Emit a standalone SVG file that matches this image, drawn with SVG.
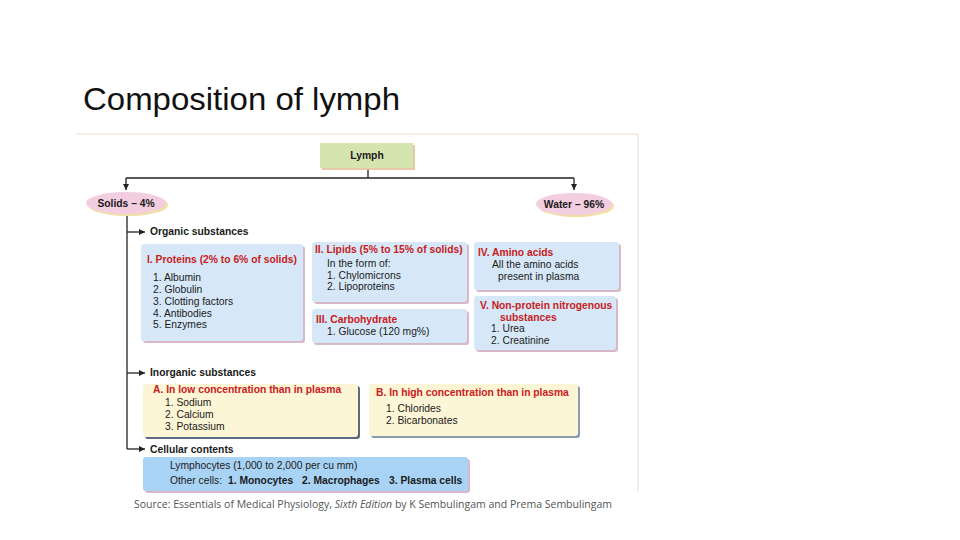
<svg xmlns="http://www.w3.org/2000/svg" width="960" height="540" viewBox="0 0 960 540">
<style>
text{font-family:"Liberation Sans",Arial,sans-serif}
.h{font-size:10.3px;font-weight:bold;fill:#c8201c}
.t{font-size:10.3px;fill:#1a1a1a}
.b{font-size:10.3px;font-weight:bold;fill:#1a1a1a}
.ln{stroke:#222;stroke-width:1.3;fill:none}
.sh{fill:#d8b8c8}
</style>
<defs><marker id="a" markerWidth="8" markerHeight="8" refX="6" refY="3" orient="auto" markerUnits="userSpaceOnUse"><path d="M0,0 L6,3 L0,6 z" fill="#222"/></marker></defs>
<rect width="960" height="540" fill="#fff"/>
<text x="83" y="110" font-size="31" textLength="317" lengthAdjust="spacingAndGlyphs" fill="#111">Composition of lymph</text>
<path d="M76,134 H638 V492" stroke="#ecd8d0" fill="none"/>
<g id="connectors">
<path class="ln" d="M368,168 V178 M126,178 H574"/>
<path class="ln" d="M126,178 V190" marker-end="url(#a)"/>
<path class="ln" d="M574,178 V190" marker-end="url(#a)"/>
<path class="ln" d="M127,214 V449"/>
<path class="ln" d="M127,232 H145" marker-end="url(#a)"/>
<path class="ln" d="M127,373 H145" marker-end="url(#a)"/>
<path class="ln" d="M127,449 H145" marker-end="url(#a)"/>
</g>
<g id="lymph"><rect x="322" y="145" width="93" height="25" fill="#e8c8a8"/><rect x="320" y="143" width="93" height="25" fill="#d5e5b0"/><text x="367" y="159" text-anchor="middle" class="b">Lymph</text></g>
<g id="solids"><ellipse cx="128" cy="205" rx="40" ry="11" fill="#f0e0a8"/><ellipse cx="126" cy="203" rx="40" ry="11" fill="#f3cde0"/><text x="126" y="207" text-anchor="middle" class="b">Solids – 4%</text></g>
<g id="water"><ellipse cx="576" cy="206" rx="38" ry="11" fill="#f0e0a8"/><ellipse cx="574" cy="204" rx="38" ry="11" fill="#f3cde0"/><text x="574" y="208" text-anchor="middle" class="b">Water – 96%</text></g>
<g id="organic"><text x="150" y="235" class="b">Organic substances</text></g>
<g id="proteins"><rect x="143" y="246" width="162" height="97" rx="3" class="sh"/><rect x="141" y="244" width="162" height="97" rx="3" fill="#d6e8f8"/>
<text x="147" y="263" class="h">I. Proteins (2% to 6% of solids)</text>
<text class="t"><tspan x="153" y="281">1. Albumin</tspan><tspan x="153" y="293">2. Globulin</tspan><tspan x="153" y="305">3. Clotting factors</tspan><tspan x="153" y="317">4. Antibodies</tspan><tspan x="153" y="328">5. Enzymes</tspan></text></g>
<g id="lipids"><rect x="314" y="244" width="155" height="60" rx="3" class="sh"/><rect x="312" y="242" width="155" height="60" rx="3" fill="#d6e8f8"/>
<text x="315" y="253" class="h">II. Lipids (5% to 15% of solids)</text>
<text class="t"><tspan x="327" y="267">In the form of:</tspan><tspan x="327" y="279">1. Chylomicrons</tspan><tspan x="327" y="290">2. Lipoproteins</tspan></text></g>
<g id="carbo"><rect x="314" y="311" width="155" height="34" rx="3" class="sh"/><rect x="312" y="309" width="155" height="34" rx="3" fill="#d6e8f8"/>
<text x="316" y="323" class="h">III. Carbohydrate</text><text x="327" y="335" class="t">1. Glucose (120 mg%)</text></g>
<g id="amino"><rect x="476" y="244" width="145" height="48" rx="3" class="sh"/><rect x="474" y="242" width="145" height="48" rx="3" fill="#d6e8f8"/>
<text x="478" y="256" class="h">IV. Amino acids</text><text class="t"><tspan x="492" y="268">All the amino acids</tspan><tspan x="498" y="280">present in plasma</tspan></text></g>
<g id="nonprotein"><rect x="476" y="298" width="142" height="54" rx="3" class="sh"/><rect x="474" y="296" width="142" height="54" rx="3" fill="#d6e8f8"/>
<text x="480" y="309" class="h">V. Non-protein nitrogenous</text><text x="500" y="321" class="h">substances</text>
<text class="t"><tspan x="491" y="332">1. Urea</tspan><tspan x="491" y="344">2. Creatinine</tspan></text></g>
<g id="inorganic"><text x="150" y="376" class="b">Inorganic substances</text></g>
<g id="low"><rect x="145" y="386" width="215" height="53" rx="3" fill="#5a6a80"/><rect x="143" y="384" width="215" height="53" rx="3" fill="#fcf5d6"/>
<text x="153" y="393" class="h">A. In low concentration than in plasma</text>
<text class="t"><tspan x="165" y="406">1. Sodium</tspan><tspan x="165" y="418">2. Calcium</tspan><tspan x="165" y="430">3. Potassium</tspan></text></g>
<g id="high"><rect x="371" y="386" width="209" height="52" rx="3" fill="#8a9ab0"/><rect x="369" y="384" width="209" height="52" rx="3" fill="#fcf5d6"/>
<text x="376" y="396" class="h">B. In high concentration than in plasma</text>
<text class="t"><tspan x="386" y="412">1. Chlorides</tspan><tspan x="386" y="424">2. Bicarbonates</tspan></text></g>
<g id="cellular"><text x="150" y="453" class="b">Cellular contents</text>
<rect x="145" y="459" width="325" height="34" rx="3" class="sh"/><rect x="143" y="457" width="325" height="34" rx="3" fill="#a9d3f5"/>
<text x="170" y="469" class="t">Lymphocytes (1,000 to 2,000 per cu mm)</text>
<text y="484" class="t"><tspan x="170">Other cells:</tspan><tspan x="228" font-weight="bold">1. Monocytes</tspan><tspan x="302" font-weight="bold">2. Macrophages</tspan><tspan x="389" font-weight="bold">3. Plasma cells</tspan></text></g>
<text x="134" y="508" font-size="10.5" fill="#555" textLength="478" style="font-family:'Open Sans','Liberation Sans',sans-serif">Source: Essentials of Medical Physiology, <tspan font-style="italic">Sixth Edition</tspan> by K Sembulingam and Prema Sembulingam</text>
</svg>
